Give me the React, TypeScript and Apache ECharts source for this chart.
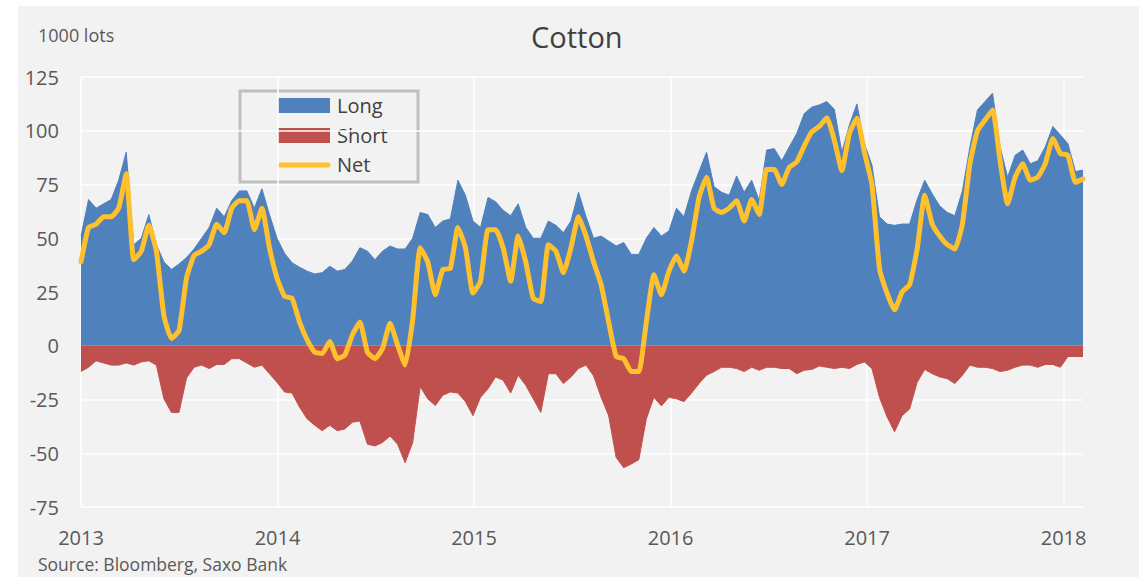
import React, { useEffect, useRef } from "react";
import * as echarts from "echarts";

// Weekly-sampled (every 2 weeks) COT positions, 1000 lots, starting 2013-01-01
const START_YEAR = 2013;
const STEP_DAYS = 14;

const longVals = [
  51, 68, 64, 66, 68, 77, 90, 47, 50, 61, 47, 39, 35.5, 38, 41, 45, 50, 55, 64, 60,
  67.5, 72, 72, 64, 73, 61, 50, 43, 38.6, 36.5, 34.7, 33.4, 34, 37, 34.7, 35.5, 39.4, 45.6, 44, 40,
  44, 46.4, 45, 45, 50, 62, 61, 55, 58, 59, 77, 70, 58, 55, 69, 67, 63, 60.5, 66, 55,
  50, 50, 58, 56, 52.6, 58, 71.4, 60, 50, 51, 48.7, 46.4, 48, 42.5, 42.5, 50, 55, 51, 53.4, 64,
  60, 72, 81, 90, 74, 71.4, 70, 79, 71.4, 77, 67.5, 91, 91.7, 86, 92.5, 98.7, 108, 111, 112, 113.6,
  110, 90, 102.6, 112.5, 94, 84, 60, 56.6, 56, 56.6, 56.6, 68, 77, 70.6, 65, 62, 60.5, 72, 92.5, 109.7,
  113.6, 117.5, 92.5, 78.4, 88.6, 91, 84.7, 86, 92.5, 102, 98, 94, 81, 81.7,
];

const shortVals = [
  -12, -10, -7, -8, -9, -9, -8, -9, -7.5, -7, -9, -24.7, -31, -31, -15, -10, -9, -10.6, -8.7, -8.7,
  -6, -6, -8, -10, -9, -13, -17, -21.5, -22, -28.6, -34, -37, -39.5, -37, -39.5, -38.7, -35.6, -35, -45.8, -46.6,
  -45, -42, -45.8, -54.4, -45, -19, -24.7, -27.8, -23, -21.5, -22, -26, -32.5, -24, -20, -14.5, -16, -22, -13.7, -18.4,
  -24.7, -31, -13, -13, -17.6, -14.5, -10.6, -9, -14, -24, -32.5, -52, -56.7, -55, -53, -34, -24, -28, -24, -24.7,
  -26, -22, -17.6, -13.7, -12, -10, -10, -10.6, -12, -10, -11.4, -10, -10, -10.6, -10.6, -13, -11.4, -11, -9.4, -10,
  -10.6, -10, -10.6, -8.7, -7.5, -10.6, -24, -33, -40, -32.5, -29.4, -17, -11, -13, -14.5, -15.3, -17.6, -13.7, -9, -10,
  -10, -10.6, -12, -11.4, -10, -9, -9, -10, -8.7, -8.7, -10, -5, -5, -5,
];

const netVals = [
  39, 55, 56.5, 60, 60, 64, 80, 40, 44, 56, 44, 14, 3.4, 7, 31.5, 42, 44, 47, 56.5, 52.6,
  64, 67.5, 67.5, 54, 64, 45.6, 31.5, 23, 22, 11, 2.7, -3, -3.6, 2, -6, -4.4, 5, 11, -3, -6,
  -1.3, 10.5, 0.3, -9, 12, 45.6, 39, 23.7, 35.5, 36, 55, 45.6, 24.5, 30, 54, 54, 45.6, 30, 51, 39,
  22, 20.6, 47, 44, 34, 45.6, 60, 51, 39, 28.4, 11, -5, -6, -12, -12, 11, 33, 23.7, 34.7, 41.7,
  34.7, 48.7, 69, 78.4, 64, 62, 64, 67.5, 58, 68, 61, 82, 82, 75, 83, 85.5, 93, 99.5, 102, 106,
  95.6, 81.5, 98.7, 105.8, 90, 75, 36, 24.5, 16.7, 25, 28.4, 45, 70, 56.6, 51, 47, 45, 56.6, 84.7, 100,
  105, 109.7, 86, 66, 78.4, 84.7, 77, 78.4, 84.7, 96.4, 89.4, 88.6, 76, 77.6,
];

const seriesNames = ["Long", "Short", "Net"];
const colors = { Long: "#4f81bd", Short: "#c0504d", Net: "#ffc02e" };
const yMin = -75;
const yMax = 125;
const yStep = 25;

const FONT = '"Open Sans", "Noto Sans", sans-serif';
const TEXT = "#595959";

function decimalYear(d: Date): number {
  const y = d.getFullYear();
  const a = new Date(y, 0, 1).getTime();
  const b = new Date(y + 1, 0, 1).getTime();
  return y + (d.getTime() - a) / (b - a);
}

const xs = longVals.map((_, i) => decimalYear(new Date(START_YEAR, 0, 1 + i * STEP_DAYS)));
const pair = (vals: number[]) => vals.map((v, i) => [xs[i], v]);

export default function App() {
  const ref = useRef<HTMLDivElement>(null);

  useEffect(() => {
    if (!ref.current) return;
    const chart = echarts.init(ref.current, undefined, { renderer: "svg" });
    const legendX = 240;
    const legendY = 91;
    chart.setOption({
      animation: false,
      backgroundColor: "transparent",
      title: {
        text: "Cotton",
        left: 526,
        top: 17,
        textStyle: { fontFamily: FONT, fontSize: 29, fontWeight: "normal", color: "#404040" },
      },
      grid: { left: 81, right: 56, top: 77, bottom: 70 },
      xAxis: {
        type: "value",
        min: START_YEAR,
        max: xs[xs.length - 1],
        interval: 1,
        axisLine: { show: false, onZero: false },
        axisTick: { show: false },
        axisLabel: {
          color: TEXT,
          fontFamily: FONT,
          fontSize: 20,
          margin: 20,
          formatter: (v: number) => (Math.abs(v - Math.round(v)) < 1e-6 ? String(Math.round(v)) : ""),
        },
        splitLine: { show: true, showMaxLine: false, lineStyle: { color: "#ffffff", width: 1.5 } },
      },
      yAxis: {
        type: "value",
        min: yMin,
        max: yMax,
        interval: yStep,
        axisLine: { show: false },
        axisTick: { show: false },
        axisLabel: { color: TEXT, fontFamily: FONT, fontSize: 20, margin: 22 },
        splitLine: { show: true, lineStyle: { color: "#ffffff", width: 1.5 } },
      },
      series: [
        {
          name: seriesNames[0],
          type: "line",
          data: pair(longVals),
          showSymbol: false,
          lineStyle: { width: 1, color: colors.Long },
          itemStyle: { color: colors.Long },
          areaStyle: { color: colors.Long, opacity: 1 },
          z: 2,
        },
        {
          name: seriesNames[1],
          type: "line",
          data: pair(shortVals),
          showSymbol: false,
          lineStyle: { width: 1, color: colors.Short },
          itemStyle: { color: colors.Short },
          areaStyle: { color: colors.Short, opacity: 1 },
          z: 3,
        },
        {
          name: seriesNames[2],
          type: "line",
          data: pair(netVals),
          showSymbol: false,
          smooth: 0.15,
          lineStyle: { width: 5, color: colors.Net, cap: "round", join: "round" },
          itemStyle: { color: colors.Net },
          z: 4,
        },
      ],
      graphic: [
        {
          type: "text",
          x: 38,
          y: 35,
          style: { text: "1000 lots", fill: TEXT, font: `18px ${FONT}`, textVerticalAlign: "middle" },
        },
        {
          type: "text",
          x: 38,
          y: 564,
          style: { text: "Source: Bloomberg, Saxo Bank", fill: TEXT, font: `17.5px ${FONT}`, textVerticalAlign: "middle" },
        },
        {
          type: "group",
          x: legendX,
          y: legendY,
          z: 10,
          children: [
            { type: "rect", shape: { x: 0, y: 0, width: 178, height: 91 }, style: { fill: "#f2f2f2", stroke: "#bfbfbf", lineWidth: 3 } },
            { type: "rect", shape: { x: 38, y: 7, width: 52, height: 15 }, style: { fill: colors.Long } },
            { type: "rect", shape: { x: 38, y: 37, width: 52, height: 15 }, style: { fill: colors.Short } },
            { type: "line", shape: { x1: 40, y1: 74, x2: 88, y2: 74 }, style: { stroke: colors.Net, lineWidth: 5, lineCap: "round" } },
            { type: "text", x: 97, y: 14, style: { text: seriesNames[0], fill: "#404040", font: `20px ${FONT}`, textVerticalAlign: "middle" } },
            { type: "text", x: 97, y: 44, style: { text: seriesNames[1], fill: "#404040", font: `20px ${FONT}`, textVerticalAlign: "middle" } },
            { type: "text", x: 97, y: 73, style: { text: seriesNames[2], fill: "#404040", font: `20px ${FONT}`, textVerticalAlign: "middle" } },
          ],
        },
      ],
    });
    return () => chart.dispose();
  }, []);

  return (
    <div style={{ position: "fixed", left: 0, top: 0, width: 1139, height: 577, background: "#ffffff" }}>
      <div style={{ position: "absolute", left: 18, top: 6, right: 0, bottom: 0, background: "#f2f2f2" }} />
      <div ref={ref} style={{ position: "absolute", left: 0, top: 0, width: 1139, height: 577 }} />
    </div>
  );
}
